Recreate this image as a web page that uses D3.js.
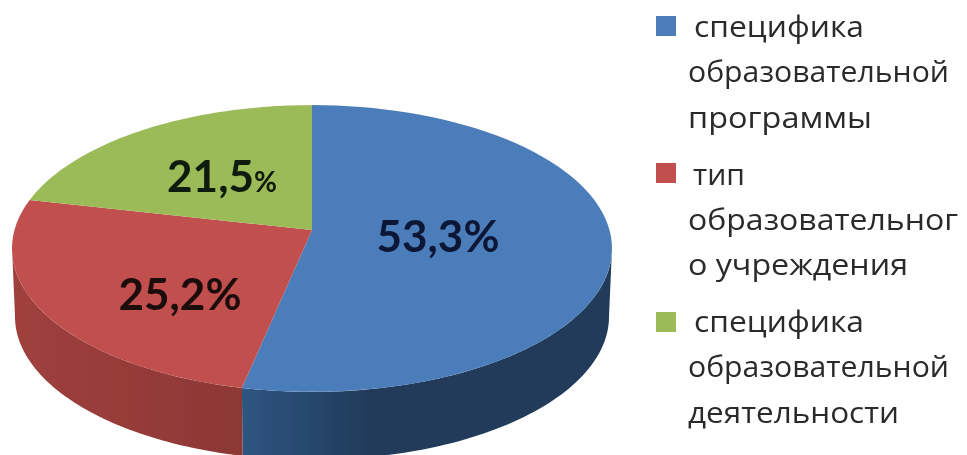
<!DOCTYPE html>
<html>
<head>
<meta charset="utf-8">
<script src="https://cdnjs.cloudflare.com/ajax/libs/d3/7.8.5/d3.min.js"></script>
<style>
  html, body { margin: 0; padding: 0; background: #fff; overflow: hidden; }
  svg { display: block; }
</style>
</head>
<body>
<svg id="chart"></svg>
<script>
const categories = [
  ["специфика", "образовательной", "программы"],
  ["тип", "образовательног", "о учреждения"],
  ["специфика", "образовательной", "деятельности"]
];
const values = [53.3, 25.2, 21.5];
const valueLabels = ["53,3", "25,2", "21,5"];
const colors = ["#4c7dba", "#c0504d", "#9bbb59"];
const wallColors = [["#2f5581", "#203a5a"], ["#8c3735", "#a0403d"], ["#7a9445", "#7a9445"]];
const labelColors = ["#0b1836", "#1f0a0c", "#0e1a0c"];

const width = 967, height = 455;

const svg = d3.select("#chart").attr("width", width).attr("height", height);

const defs = svg.append("defs");
defs.append("filter").attr("id", "soft")
  .append("feGaussianBlur").attr("stdDeviation", 0.7);

const cx = 312, cy = 230;
const xScale = d3.scaleLinear().domain([-1, 1]).range([cx - 297.5, cx + 297.5]);
const yScale = d3.scaleLinear().domain([-1, 1]).range([cy + 141, cy - 141]);
const tilt = 0.129, depth = 68, shrink = 0.99;

// the disc leans back, so the far edge is squeezed and the near edge stretched
const project = (angle, r = 1, drop = 0) => {
  const u = r * Math.sin(angle), v = r * Math.cos(angle);
  const w = 1 + tilt * v;
  const s = drop ? shrink : 1;
  return [cx + (xScale(u / w) - cx) * s, yScale(v / w) + drop];
};

const arcs = d3.pie().sort(null)(values);
const line = d3.line();
const steps = a => d3.range(0, 73).map(i => a.startAngle + (a.endAngle - a.startAngle) * i / 72);

const g = svg.append("g").attr("filter", "url(#soft)");

// side wall, only the part facing the viewer
const wallFrom = Math.PI / 2 + 0.13, wallTo = Math.PI * 1.46;
arcs.forEach((a, i) => {
  const from = Math.max(a.startAngle, wallFrom);
  const to = Math.min(a.endAngle, wallTo);
  if (to <= from) return;
  const angles = d3.range(0, 73).map(k => from + (to - from) * k / 72);
  const top = angles.map(t => project(t));
  const bottom = angles.map(t => project(t, 1, depth)).reverse();
  const xs = top.concat(bottom).map(p => p[0]);
  const grad = defs.append("linearGradient").attr("id", "wall" + i)
    .attr("gradientUnits", "userSpaceOnUse")
    .attr("x1", d3.min(xs)).attr("x2", d3.max(xs)).attr("y1", 0).attr("y2", 0);
  const stops = i === 0 ? [wallColors[i][0], wallColors[i][1]] : [wallColors[i][1], wallColors[i][0]];
  grad.append("stop").attr("offset", 0).attr("stop-color", stops[0]);
  grad.append("stop").attr("offset", i === 0 ? 0.35 : 1).attr("stop-color", stops[1]);
  g.append("path")
    .attr("d", line(top.concat(bottom)) + "Z")
    .attr("fill", "url(#wall" + i + ")");
});

// top face
g.selectAll("path.slice")
  .data(arcs)
  .enter().append("path")
    .attr("class", "slice")
    .attr("d", a => line([[cx, cy]].concat(steps(a).map(t => project(t)))) + "Z")
    .attr("fill", (a, i) => colors[i]);

// data labels
const labelPos = [[438, 252], [180, 310], [222, 192]];
const labels = svg.append("g").attr("filter", "url(#soft)")
  .attr("font-family", "Lato, 'Open Sans', sans-serif")
  .attr("font-weight", 700)
  .attr("text-anchor", "middle");

valueLabels.forEach((v, i) => {
  const t = labels.append("text")
    .attr("x", labelPos[i][0]).attr("y", labelPos[i][1])
    .attr("fill", labelColors[i])
    .attr("font-size", 44);
  t.append("tspan").text(v);
  t.append("tspan").attr("font-size", i === 2 ? 28 : 44).text("%");
});

const legendKeyY = [16, 163, 312];
const legendBase = [[37, 82, 128], [185, 230, 275], [332, 377, 423]];
const legendWidth = [[170, 261, 184], [52, 270, 220], [170, 261, 211]];
const firstX = [694, 693, 694];

const legend = svg.append("g").attr("filter", "url(#soft)")
  .attr("font-family", "'Open Sans', sans-serif")
  .attr("font-size", 30)
  .attr("fill", "#2b2b2b");

categories.forEach((lines, i) => {
  legend.append("rect")
    .attr("x", 656).attr("y", legendKeyY[i])
    .attr("width", 20).attr("height", 20)
    .attr("fill", colors[i]);
  lines.forEach((s, k) => {
    legend.append("text")
      .attr("x", k === 0 ? firstX[i] : 688)
      .attr("y", legendBase[i][k])
      .attr("textLength", legendWidth[i][k])
      .attr("lengthAdjust", "spacingAndGlyphs")
      .text(s);
  });
});
</script>
</body>
</html>
